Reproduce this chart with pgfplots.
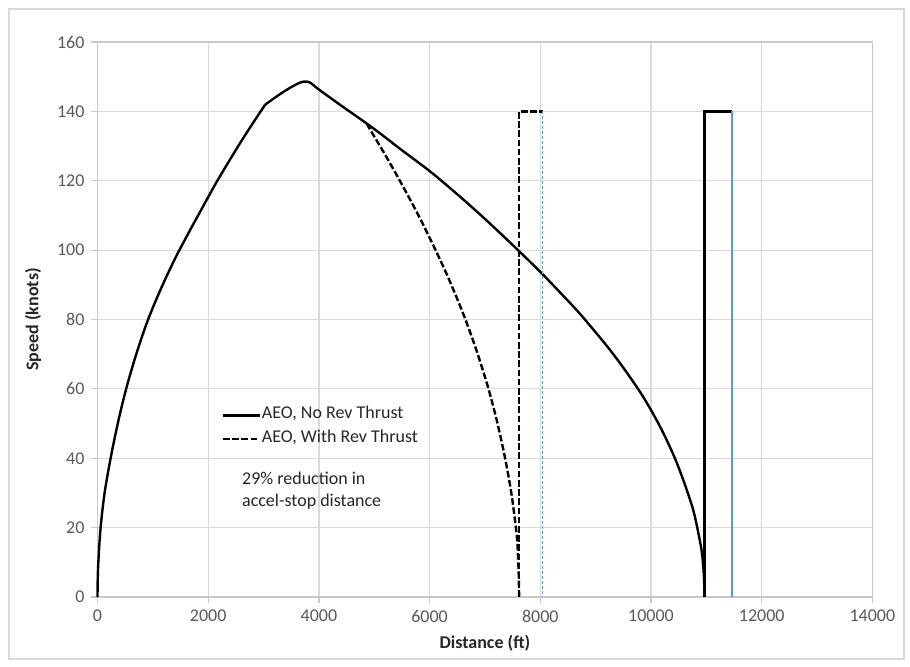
\documentclass[border=0pt]{standalone}
\usepackage{fontspec}
\setmainfont{Carlito}
\usepackage{pgfplots}
\pgfplotsset{compat=1.18}
\definecolor{blueline}{HTML}{5B9BD5}
\definecolor{gridc}{HTML}{D9D9D9}
\definecolor{axc}{HTML}{C8C8C8}
\definecolor{tickc}{HTML}{595959}
\definecolor{txtc}{HTML}{262626}
\begin{document}
\begin{tikzpicture}
\path[use as bounding box] (0,0) rectangle (455pt,333pt);
\draw[color=gridc, line width=0.6pt] (4.5pt,3.5pt) rectangle (452pt,328.5pt);
\begin{axis}[
  at={(48.75pt,34.5pt)}, anchor=south west,
  scale only axis, width=387.45pt, height=277.5pt,
  xmin=0, xmax=14000, ymin=0, ymax=160,
  xtick={0,2000,...,14000}, ytick={0,20,...,160},
  scaled x ticks=false, scaled y ticks=false,
  grid=major, grid style={color=gridc, line width=0.6pt},
  axis line style={color=axc, line width=0.6pt},
  tick align=outside, major tick length=3pt,
  tick style={color=axc, line width=0.6pt},
  xtick pos=bottom, ytick pos=left,
  /pgf/number format/assume math mode=true,
  /pgf/number format/1000 sep={},
  ticklabel style={font=\fontsize{9}{10.8}\selectfont, text=tickc},
  xlabel={\bfseries Distance (ft)}, ylabel={\bfseries Speed (knots)},
  label style={font=\fontsize{9}{10.8}\selectfont, text=txtc},
  xlabel style={at={(axis description cs:0.5,-0.083)}, anchor=center},
  ylabel style={at={(axis description cs:-0.083,0.5)}, anchor=center},
  clip=false,
  legend style={at={(axis cs:2244,49)}, anchor=west, draw=none, fill=none,
    inner sep=0pt, outer sep=0pt, font=\fontsize{9}{10.8}\selectfont, text=txtc,
    nodes={inner sep=0.6pt, text height=7pt, text depth=3.5pt}, row sep=0pt},
  legend cell align=left,
  legend image code/.code={\draw[#1] (0pt,0pt) -- (18.3pt,0pt);},
]
% No reverse thrust: acceleration segment
\addplot[black, line width=1.2pt, smooth, tension=0.5] coordinates {
(0,0) (4,5) (15,10) (55,19.8) (130,30.2) (249,41) (380,51) (521,60.2) (700,70)
(900,79.4) (1130,88.3) (1390,97.2) (1650,105.1) (1852,111) (2000,115.3)
(2154,119.7) (2500,128.9) (2750,135.2) (3027,141.9)
};
\addlegendentry{AEO, No Rev Thrust}
% No reverse thrust: peak and stop segment
\addplot[forget plot, black, line width=1.2pt, smooth, tension=0.5] coordinates {
(3027,141.9) (3200,143.9) (3357,145.6) (3500,147) (3659,148.3)
(3750,148.6) (3840,148.3) (4000,146.3) (4400,141.7) (4864,136.5) (5200,132.5)
(5466,129.2) (6008,122.7) (6500,116.1) (7000,109.0) (7604,99.9) (8026,93.3)
(8357,87.8) (8719,81.6) (9201,72.4) (9500,66.1) (9803,59.1) (10000,53.9)
(10200,48) (10400,41.2) (10526,36.2) (10650,30.7) (10766,24.9) (10850,18.9)
(10918,13) (10950,7.5) (10962,3.5) (10966,0)
};
% With reverse thrust
\addplot[black, line width=1.2pt, dash pattern=on 3.3pt off 1.3pt, smooth, tension=0.5] coordinates {
(4864,136.5) (4924,134.8) (5200,127.4) (5466,119.9) (5800,110.0) (6099,100.3)
(6300,93.4) (6490,86.3) (6671,79.0) (6870,70.0) (7062,60.1) (7220,50.5)
(7364,40.0) (7480,29.6) (7575,17.7) (7600,10.8) (7612,5.3) (7617,0)
};
\addlegendentry{AEO, With Rev Thrust}
\addplot[forget plot, black, line width=1.2pt, dash pattern=on 3.3pt off 1.3pt] coordinates {
(7617,0) (7617,140) (8040,140)
};
\addplot[forget plot, black, line width=1.2pt, line join=miter] coordinates {
(10966,0) (10966,140) (11455,140)
};
\addplot[forget plot, blueline, line width=1pt] coordinates {
(11455,140) (11455,0)
};
\addplot[forget plot, blueline, line width=0.8pt, dash pattern=on 1.5pt off 1pt] coordinates {
(8040,140) (8040,0)
};
\node[anchor=west, align=left, inner sep=0pt, font=\fontsize{9}{10.8}\selectfont, text=txtc]
  at (axis cs:2606,30.7) {29\% reduction in\\accel-stop distance};
\end{axis}
\end{tikzpicture}
\end{document}
